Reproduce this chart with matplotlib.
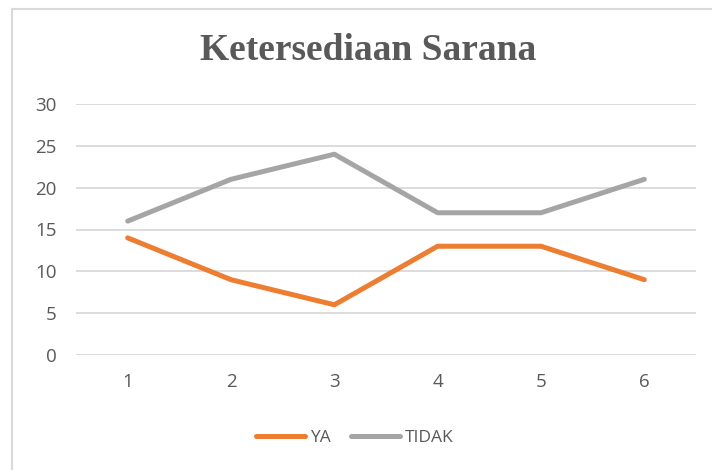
import matplotlib
matplotlib.use('Agg')
import matplotlib.pyplot as plt
from matplotlib.lines import Line2D

categories = ['1', '2', '3', '4', '5', '6']
ya = [14, 9, 6, 13, 13, 9]
tidak = [16, 21, 24, 17, 17, 21]
yticks = [0, 5, 10, 15, 20, 25, 30]

text_color = '#595959'
W, H = 712, 470

fig = plt.figure(figsize=(W / 100, H / 100), dpi=100)
ax = fig.add_axes([76 / W, 1 - 355 / H, (696 - 76) / W, (355 - 104) / H])

x = list(range(len(categories)))
ax.plot(x, ya, color='#ED7D31', lw=3.6, solid_capstyle='round', label='YA')
ax.plot(x, tidak, color='#A5A5A5', lw=3.6, solid_capstyle='round', label='TIDAK')

ax.set_xlim(-0.5, len(categories) - 0.5)
ax.set_ylim(0, 30)
ax.set_yticks(yticks)
ax.set_xticks(x)
ax.set_xticklabels(categories)
ax.yaxis.grid(True, color='#D9D9D9', lw=1.3)
ax.set_axisbelow(True)
for s in ax.spines.values():
    s.set_visible(False)
ax.tick_params(length=0, labelsize=13.5, labelcolor=text_color)
ax.tick_params(axis='y', pad=14)
ax.tick_params(axis='x', pad=13)
for lbl in ax.get_xticklabels() + ax.get_yticklabels():
    lbl.set_fontfamily('Open Sans')

fig.text(368 / W, 1 - 51 / H, 'Ketersediaan Sarana', ha='center', va='center',
         fontsize=27, fontweight='bold', family='Liberation Serif', color=text_color)

leg = fig.legend(loc='center', bbox_to_anchor=(355 / W, 1 - 438 / H), ncol=2,
                 frameon=False, handlelength=2.8, columnspacing=1.2, handletextpad=0.3,
                 prop={'family': 'Open Sans', 'size': 12.5})
for t in leg.get_texts():
    t.set_color(text_color)

# chart border
fig.add_artist(Line2D([12 / W, 12 / W], [0, 1 - 9 / H], color='#D9D9D9', lw=1.5))
fig.add_artist(Line2D([12 / W, 1], [1 - 9 / H, 1 - 9 / H], color='#D9D9D9', lw=1.5))

fig.savefig('out.png', dpi=100)
